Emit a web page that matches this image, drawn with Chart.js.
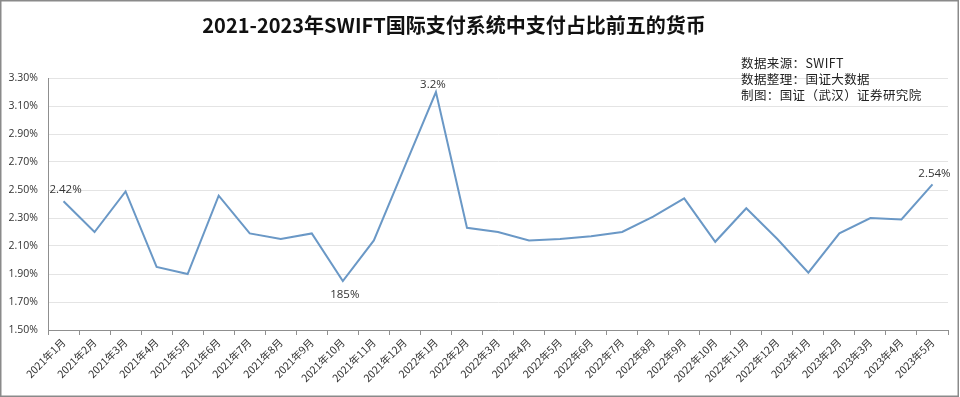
<!DOCTYPE html>
<html>
<head>
<meta charset="utf-8">
<script src="https://cdn.jsdelivr.net/npm/chart.js@4.4.1/dist/chart.umd.min.js"></script>
<style>
html,body{margin:0;padding:0;background:#fff;}
#wrap{width:960px;height:397px;}
</style>
</head>
<body>
<div id="wrap"><canvas id="c" width="960" height="397"></canvas></div>
<script>
const categories = ["2021年1月","2021年2月","2021年3月","2021年4月","2021年5月","2021年6月","2021年7月","2021年8月","2021年9月","2021年10月","2021年11月","2021年12月","2022年1月","2022年2月","2022年3月","2022年4月","2022年5月","2022年6月","2022年7月","2022年8月","2022年9月","2022年10月","2022年11月","2022年12月","2023年1月","2023年2月","2023年3月","2023年4月","2023年5月"];
const shareValues = [2.42,2.20,2.49,1.95,1.90,2.46,2.19,2.15,2.19,1.85,2.14,2.67,3.20,2.23,2.20,2.14,2.15,2.17,2.20,2.31,2.44,2.13,2.37,2.15,1.91,2.19,2.30,2.29,2.54];
const pointLabels = {0:"2.42%", 9:"185%", 12:"3.2%", 28:"2.54%"};
const yTickMin = 1.5, yTickMax = 3.3, yTickStep = 0.2;
const titleText = "2021-2023年SWIFT国际支付系统中支付占比前五的货币";
const noteLines = ["数据来源：SWIFT","数据整理：国证大数据","制图：国证（武汉）证券研究院"];

const decor = {
  id: 'decor',
  beforeDraw(chart) {
    const ctx = chart.ctx;
    ctx.save();
    ctx.fillStyle = '#fff';
    ctx.fillRect(0, 0, chart.width, chart.height);
    ctx.restore();
  },
  afterDraw(chart) {
    const ctx = chart.ctx;
    ctx.save();
    // title
    ctx.fillStyle = '#111';
    ctx.font = 'bold 20px "Noto Sans CJK SC", "Open Sans", sans-serif';
    ctx.textAlign = 'center';
    ctx.textBaseline = 'middle';
    ctx.fillText(titleText, 454, 25);
    // notes
    ctx.font = '12.5px "Noto Sans CJK SC", sans-serif';
    ctx.textAlign = 'left';
    ctx.fillStyle = '#222';
    try { ctx.letterSpacing = '0.4px'; } catch(e) {}
    noteLines.forEach((t, i) => ctx.fillText(t, 741, 63 + i * 16));
    try { ctx.letterSpacing = '0px'; } catch(e) {}
    // point labels
    const meta = chart.getDatasetMeta(0);
    ctx.font = '11.5px "Open Sans", "Noto Sans", sans-serif';
    ctx.fillStyle = '#333';
    ctx.textAlign = 'center';
    Object.keys(pointLabels).forEach(k => {
      const i = +k;
      const p = meta.data[i];
      const dy = i === 9 ? 14 : (i === 12 ? -7 : -11);
      ctx.fillText(pointLabels[k], p.x + (i === 12 ? -3 : 2), p.y + dy);
    });
    // frame
    ctx.strokeStyle = '#8a8a8a';
    ctx.lineWidth = 1.5;
    ctx.strokeRect(0.75, 0.75, chart.width - 2.5, chart.height - 1.5);
    ctx.restore();
  }
};

new Chart(document.getElementById('c'), {
  type: 'line',
  data: {
    labels: categories,
    datasets: [{
      data: shareValues,
      borderColor: '#6A98C6',
      borderWidth: 2,
      pointRadius: 0,
      pointHoverRadius: 0,
      tension: 0,
      fill: false
    }]
  },
  options: {
    responsive: false,
    animation: false,
    events: [],
    layout: { padding: { top: 78, left: 0, right: 12, bottom: 0 } },
    plugins: { legend: { display: false }, tooltip: { enabled: false }, title: { display: false } },
    scales: {
      x: {
        type: 'category',
        offset: true,
        afterFit(s) { s.height = 67; },
        border: { color: '#8f8f8f', width: 1 },
        grid: { offset: true, drawOnChartArea: false, drawTicks: true, tickLength: 5, color: '#8f8f8f' },
        ticks: {
          autoSkip: false, maxRotation: 45, minRotation: 45, padding: 1,
          color: '#333', font: { size: 10.5, family: '"Noto Sans CJK SC", "Open Sans", sans-serif' }
        }
      },
      y: {
        min: yTickMin, max: yTickMax,
        afterFit(s) { s.width = 48; },
        border: { color: '#8f8f8f', width: 1 },
        grid: { color: '#e4e4e4', drawTicks: false },
        ticks: {
          stepSize: yTickStep, padding: 10,
          color: '#333', font: { size: 10.5, family: '"Open Sans", "Noto Sans", sans-serif' },
          callback: v => v.toFixed(2) + '%'
        }
      }
    }
  },
  plugins: [decor]
});
</script>
</body>
</html>
